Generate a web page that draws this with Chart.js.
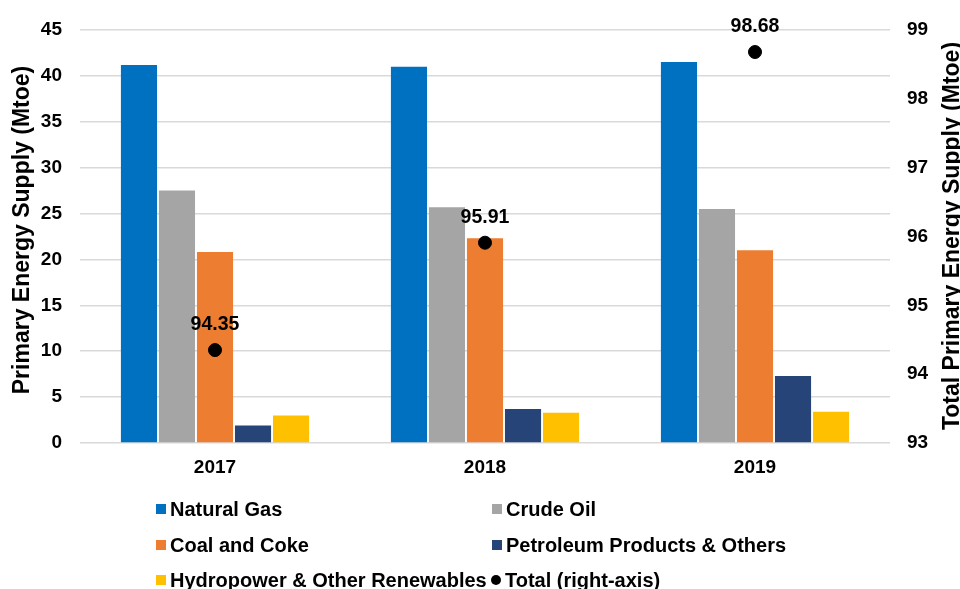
<!DOCTYPE html>
<html><head><meta charset="utf-8">
<script src="https://cdn.jsdelivr.net/npm/chart.js@4/dist/chart.umd.min.js"></script>
<style>
html,body{margin:0;padding:0;background:#fff;overflow:hidden;}
#wrap{position:relative;width:960px;height:589px;}
#legend{position:absolute;left:0;top:0;width:960px;height:589px;pointer-events:none;font-family:"Liberation Sans",Arial,sans-serif;font-weight:bold;font-size:20px;color:#000;}
.li{position:absolute;display:flex;align-items:center;white-space:nowrap;height:22px;}
.sw{width:10px;height:10px;margin-right:4px;}
.dot{width:10px;height:10px;border-radius:50%;background:#000;margin-right:4px;}
</style></head>
<body><div id="wrap"><canvas id="c" width="960" height="589"></canvas><div id="legend"></div></div>
<script>
const categories = ["2017", "2018", "2019"];
const naturalGas = [41.2, 41.0, 41.5];
const crudeOil = [27.5, 25.7, 25.5];
const coalCoke = [20.8, 22.3, 21.0];
const petroleum = [1.9, 3.7, 7.3];
const hydro = [3.0, 3.3, 3.4];
const total = [94.35, 95.91, 98.68];
const seriesNames = ["Natural Gas", "Crude Oil", "Coal and Coke", "Petroleum Products & Others", "Hydropower & Other Renewables", "Total (right-axis)"];
const colors = ["#0070C0", "#A5A5A5", "#ED7D31", "#264478", "#FFC000", "#000000"];
const leftTitle = "Primary Energy Supply (Mtoe)";
const rightTitle = "Total Primary Energy Supply (Mtoe)";

const FONT = "'Liberation Sans', Arial, sans-serif";
Chart.defaults.font.family = FONT;
Chart.defaults.color = "#000";

const labelPlugin = {
  id: "totLabels",
  afterDatasetsDraw(chart) {
    const meta = chart.getDatasetMeta(5);
    const ctx = chart.ctx;
    ctx.save();
    ctx.font = "bold 19.5px " + FONT;
    ctx.fillStyle = "#000";
    ctx.textAlign = "center";
    ctx.textBaseline = "middle";
    meta.data.forEach((p, i) => {
      ctx.fillText(total[i].toFixed(2), p.x, p.y - 25);
    });
    // axis titles, both reading bottom-to-top
    ctx.font = "bold 23px " + FONT;
    const drawV = (txt, x, y) => {
      ctx.save();
      ctx.translate(x, y);
      ctx.rotate(-Math.PI / 2);
      ctx.fillText(txt, 0, 0);
      ctx.restore();
    };
    drawV(leftTitle, 23, 230);
    drawV(rightTitle, 953, 236);
    ctx.restore();
  }
};

const barDs = [naturalGas, crudeOil, coalCoke, petroleum, hydro].map((d, i) => ({
  type: "bar", label: seriesNames[i], data: d, backgroundColor: colors[i],
  borderWidth: 0, yAxisID: "y", order: 2,
  barPercentage: 0.95, categoryPercentage: 0.704
}));

new Chart(document.getElementById("c"), {
  data: {
    labels: categories,
    datasets: [...barDs, {
      type: "line", label: seriesNames[5], data: total, yAxisID: "y1",
      showLine: false, pointRadius: 6.5, pointBackgroundColor: "#000",
      pointBorderColor: "#000", order: 1
    }]
  },
  options: {
    responsive: false, animation: false,
    layout: { padding: { left: 0, right: 0, top: 30, bottom: 0 } },
    plugins: { legend: { display: false }, tooltip: { enabled: false } },
    scales: {
      x: {
        grid: { display: false }, border: { display: false },
        ticks: { font: { size: 19, weight: "bold" }, color: "#000", padding: 5 },
        afterFit(s) { s.height = 589 - 443; }
      },
      y: {
        position: "left", min: 0, max: 45,
        ticks: { stepSize: 5, font: { size: 19, weight: "bold" }, color: "#000", padding: 18 },
        grid: { color: "#D9D9D9", lineWidth: 1.5, drawTicks: false },
        border: { display: false },
        afterFit(s) { s.width = 80; }
      },
      y1: {
        position: "right", min: 93, max: 99,
        ticks: { stepSize: 1, font: { size: 19, weight: "bold" }, color: "#000", padding: 17 },
        grid: { display: false, drawTicks: false }, border: { display: false },
        afterFit(s) { s.width = 70; }
      }
    }
  },
  plugins: [labelPlugin]
});

const legendItems = [
  [0, 156, 509], [1, 492, 509],
  [2, 156, 545], [3, 492, 545],
  [4, 156, 580], [5, 491, 580]
];
const lg = document.getElementById("legend");
legendItems.forEach(([i, x, y]) => {
  const d = document.createElement("div");
  d.className = "li";
  d.style.left = x + "px";
  d.style.top = (y - 11) + "px";
  const s = document.createElement("div");
  if (i === 5) { s.className = "dot"; } else { s.className = "sw"; s.style.background = colors[i]; }
  d.appendChild(s);
  const t = document.createElement("span");
  t.textContent = seriesNames[i];
  d.appendChild(t);
  lg.appendChild(d);
});
</script></body></html>
